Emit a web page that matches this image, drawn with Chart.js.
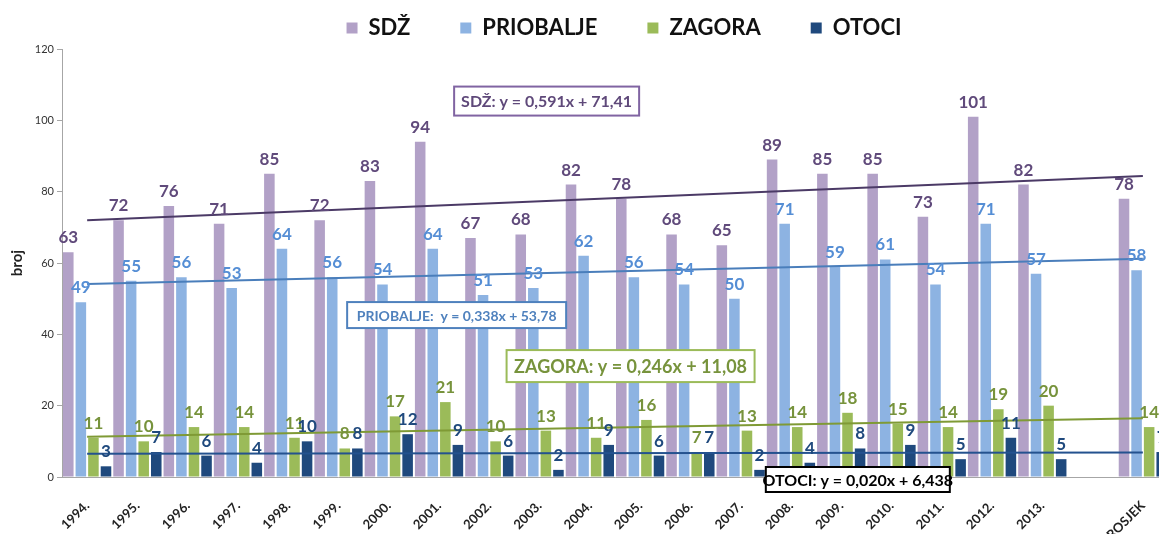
<!DOCTYPE html>
<html>
<head>
<meta charset="utf-8">
<script src="https://cdn.jsdelivr.net/npm/chart.js@4.4.0/dist/chart.umd.min.js"></script>
<style>
html, body { margin: 0; padding: 0; overflow: hidden; background: #fff; }
#wrap { width: 1170px; height: 534px; }
</style>
</head>
<body>
<div id="wrap"><canvas id="chart"></canvas></div>
<script>
// categories (empty slot before the average, as in the original)
var years = ['1994.', '1995.', '1996.', '1997.', '1998.', '1999.', '2000.', '2001.', '2002.', '2003.',
             '2004.', '2005.', '2006.', '2007.', '2008.', '2009.', '2010.', '2011.', '2012.', '2013.', '', 'PROSJEK'];

var sdz       = [63, 72, 76, 71, 85, 72, 83, 94, 67, 68, 82, 78, 68, 65, 89, 85, 85, 73, 101, 82, null, 78];
var priobalje = [49, 55, 56, 53, 64, 56, 54, 64, 51, 53, 62, 56, 54, 50, 71, 59, 61, 54, 71, 57, null, 58];
var zagora    = [11, 10, 14, 14, 11, 8, 17, 21, 10, 13, 11, 16, 7, 13, 14, 18, 15, 14, 19, 20, null, 14];
var otoci     = [3, 7, 6, 4, 10, 8, 12, 9, 6, 2, 9, 6, 7, 2, 4, 8, 9, 5, 11, 5, null, 7];

// trend lines: value at first category and at PROSJEK
var trendSdz = [72.0, 84.4];
var trendPriobalje = [54.1, 61.2];
var trendZagora = [11.3, 16.5];
var trendOtoci = [6.5, 6.9];

var yTicks = [0, 20, 40, 60, 80, 100, 120];

var FONT = 'Lato, "Open Sans", sans-serif';

function endpoints(pair) {
    var arr = years.map(function() { return null; });
    arr[0] = pair[0];
    arr[arr.length - 1] = pair[1];
    return arr;
}

// equation boxes (anchored on category index / value)
var trendBoxes = [
    { text: 'SDŽ: y = 0,591x + 71,41', cat: 9.14, val: 105.4, size: 16, color: '#5f497a', border: '#8064a2', w: 185, h: 29 },
    { text: 'PRIOBALJE:  y = 0,338x + 53,78', cat: 7.35, val: 45.4, size: 14, color: '#4f81bd', border: '#4f81bd', w: 219, h: 26 },
    { text: 'ZAGORA: y = 0,246x + 11,08', cat: 10.81, val: 31.1, size: 18, color: '#77933c', border: '#9bbb59', w: 248, h: 32 },
    { text: 'OTOCI: y = 0,020x + 6,438', cat: 15.33, val: -0.7, size: 16, color: '#000', border: '#000', w: 184, h: 25 }
];

var valueLabels = {
    id: 'valueLabels',
    afterDatasetsDraw: function(chart) {
        var ctx = chart.ctx;
        ctx.save();
        ctx.font = 'bold 17px ' + FONT;
        ctx.textAlign = 'center';
        ctx.textBaseline = 'alphabetic';
        chart.data.datasets.forEach(function(ds, i) {
            if (ds.type === 'line') return;
            var meta = chart.getDatasetMeta(i);
            ctx.fillStyle = ds.labelColor;
            meta.data.forEach(function(bar, j) {
                var v = ds.data[j];
                if (v === null || v === undefined) return;
                ctx.fillText(String(v), bar.x, bar.y - 9);
            });
        });
        ctx.restore();
    }
};

var equationBoxes = {
    id: 'equationBoxes',
    afterDraw: function(chart) {
        var ctx = chart.ctx;
        var x = chart.scales.x, y = chart.scales.y;
        ctx.save();
        trendBoxes.forEach(function(b) {
            var cx = x.getPixelForValue(b.cat);
            var cy = y.getPixelForValue(b.val);
            ctx.fillStyle = '#fff';
            ctx.fillRect(cx - b.w / 2, cy - b.h / 2, b.w, b.h);
            ctx.lineWidth = 2;
            ctx.strokeStyle = b.border;
            ctx.strokeRect(cx - b.w / 2, cy - b.h / 2, b.w, b.h);
            ctx.font = 'bold ' + b.size + 'px ' + FONT;
            ctx.fillStyle = b.color;
            ctx.textAlign = 'center';
            ctx.textBaseline = 'middle';
            ctx.fillText(b.text, cx, cy + 1);
        });
        ctx.restore();
    }
};

// the legend sits a little right of the canvas centre in the original
var legendShift = {
    id: 'legendShift',
    afterLayout: function(chart) {
        chart.legend.left += 40;
        chart.legend.right += 40;
    }
};

var ctx = document.getElementById('chart').getContext('2d');
var chart = new Chart(ctx, {
    type: 'bar',
    data: {
        labels: years,
        datasets: [
            { label: 'SDŽ', data: sdz, backgroundColor: '#b2a1c7', labelColor: '#604a7b', order: 1 },
            { label: 'PRIOBALJE', data: priobalje, backgroundColor: '#8db3e2', labelColor: '#558ed5', order: 1 },
            { label: 'ZAGORA', data: zagora, backgroundColor: '#9bbb59', labelColor: '#77933c', order: 1 },
            { label: 'OTOCI', data: otoci, backgroundColor: '#1f497d', labelColor: '#1f497d', order: 1 },
            { type: 'line', label: 'trend SDŽ', data: endpoints(trendSdz), borderColor: '#4b3a66', borderWidth: 2, pointRadius: 0, spanGaps: true, order: 0 },
            { type: 'line', label: 'trend PRIOBALJE', data: endpoints(trendPriobalje), borderColor: '#4a7ebb', borderWidth: 2, pointRadius: 0, spanGaps: true, order: 0 },
            { type: 'line', label: 'trend ZAGORA', data: endpoints(trendZagora), borderColor: '#7f9a35', borderWidth: 2, pointRadius: 0, spanGaps: true, order: 0 },
            { type: 'line', label: 'trend OTOCI', data: endpoints(trendOtoci), borderColor: '#24528f', borderWidth: 2, pointRadius: 0, spanGaps: true, order: 0 }
        ]
    },
    options: {
        responsive: true,
        maintainAspectRatio: false,
        animation: false,
        categoryPercentage: 1.0,
        barPercentage: 0.84,
        layout: { padding: { top: -33, right: 2, left: 0, bottom: 0 } },
        plugins: {
            tooltip: { enabled: false },
            legend: {
                position: 'top',
                maxHeight: 82,
                labels: {
                    boxWidth: 11,
                    boxHeight: 11,
                    padding: 50,
                    color: '#111',
                    font: { family: FONT, size: 22, weight: 'bold' },
                    filter: function(item) { return item.datasetIndex < 4; }
                }
            }
        },
        scales: {
            x: {
                // invisible tick marks only push the rotated labels down
                grid: { display: true, drawOnChartArea: false, drawTicks: true, tickLength: 9, color: 'rgba(0,0,0,0)' },
                border: { display: true, color: '#a6a6a6' },
                ticks: {
                    autoSkip: false,
                    minRotation: 45,
                    maxRotation: 45,
                    padding: 12,
                    color: '#222',
                    font: { family: FONT, size: 13, weight: 'bold' }
                },
                afterFit: function(scale) { scale.height = 57; }
            },
            y: {
                min: 0,
                max: 120,
                afterBuildTicks: function(scale) {
                    scale.ticks = yTicks.map(function(v) { return { value: v }; });
                },
                grid: { drawOnChartArea: false, drawTicks: true, tickLength: 5, color: '#a6a6a6' },
                border: { display: true, color: '#a6a6a6' },
                ticks: { padding: 3, color: '#333', font: { family: FONT, size: 11 } },
                title: {
                    display: true,
                    text: 'broj',
                    color: '#222',
                    padding: { top: 8, bottom: 0 },
                    font: { family: FONT, size: 15, weight: 'bold' }
                },
                afterFit: function(scale) { scale.width = 62; }
            }
        }
    },
    plugins: [valueLabels, equationBoxes, legendShift]
});
</script>
</body>
</html>
